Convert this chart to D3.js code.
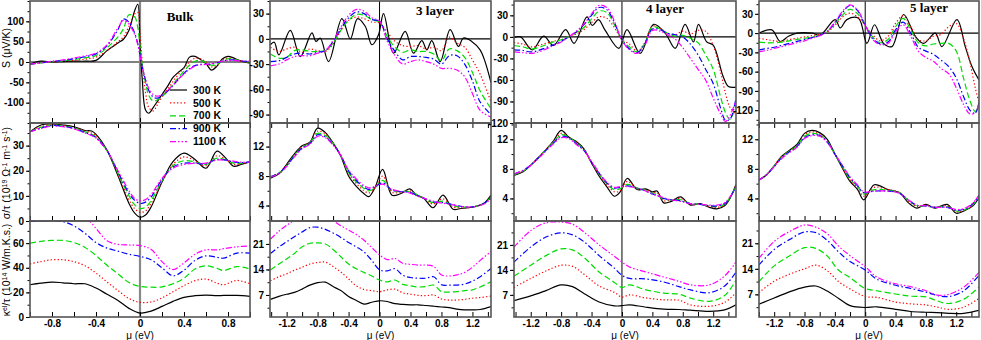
<!DOCTYPE html>
<html>
<head>
<meta charset="utf-8">
<script src="https://cdn.jsdelivr.net/npm/d3@7"></script>
<style>
  body { margin: 0; background: #fff; }
  svg { display: block; }
</style>
</head>
<body>
<div id="chart"></div>
<script>
// -------------------- Data --------------------

const temps = ["300 K", "500 K", "700 K", "900 K", "1100 K"];
const titles = ["Bulk", "3 layer", "4 layer", "5 layer"];

// ***** Bulk *****
const muSb = [-1,-0.9,-0.8,-0.7,-0.6,-0.5,-0.4,-0.3,-0.2,-0.15,-0.1,-0.05,-0.02,0,0.02,0.05,0.08,0.12,0.16,0.2,0.25,0.3,0.35,0.4,0.45,0.5,0.55,0.6,0.65,0.7,0.75,0.8,0.85,0.9,1.0];
const sBulk = [
  [-5,2,0,1,2, 2,4,28,47,56, 78,125,142,40,-40, -118,-126,-112,-96,-80, -60,-38,-25,-14,12, 14,6,-4,-20,-10, 8,14,10,4,-3],
  [-5,-2,0,2,4, 7,12,28,50,62, 88,118,122,70,0, -75,-112,-120,-104,-86, -68,-48,-30,-15,0, 9,8,0,-12,-8, 4,10,8,3,-2],
  [-5,-2,1,3,6, 10,16,35,62,82, 116,112,85,38,-5, -50,-82,-96,-93,-85, -72,-55,-38,-22,-8, 2,4,-2,-8,-6, 3,8,7,3,0],
  [-5,-2,1,4,8, 13,20,40,80,106, 98,72,45,18,-12, -45,-70,-86,-89,-82, -72,-58,-42,-28,-16, -9,-6,-6,-5,-2, 2,5,5,3,1],
  [-5,-2,2,5,10, 15,22,42,84,103, 93,68,42,15,-13, -42,-65,-80,-84,-80, -70,-57,-42,-30,-18, -10,-7,-6,-4,-1, 2,4,4,3,2]
];
const muSigB = [-1,-0.9,-0.8,-0.7,-0.6,-0.5,-0.44,-0.4,-0.3,-0.2,-0.1,-0.05,0,0.05,0.1,0.2,0.3,0.4,0.5,0.6,0.7,0.78,0.85,0.92,1.0];
const sigBulk = [
  [35.5,38.2,38.6,38.2,37.5, 36,35.8,34.5,28.2,18, 7,3.2,1.5,2.4,5.5, 15.5,23.6,27,24.5,21, 27.8,25,21.8,22.5,23.5],
  [35.5,37.5,38.3,38,37.3, 35.8,35,33.8,28,18.5, 8.5,5,3.5,4,7, 15.5,22.5,25.5,24,22, 26,24.5,22.5,22.8,23.5],
  [35.5,37.3,38.2,37.9,37, 35.5,34.5,33.5,28,19, 10,6.5,5,5.5,8, 16,22,24,23.5,22.5, 25,24.3,23,23,23.5],
  [35.5,37,38,37.7,36.8, 35.2,34.2,33.2,28,19.5, 11,8.3,7,7.5,9.5, 16.5,21.5,23,23,22.8, 24.5,24.2,23.5,23.2,23.5],
  [35.5,36.8,37.8,37.5,36.6, 35,34,33,28,20, 12,9,8,8.5,10.5, 17,21,22.5,23,23, 24.3,24.2,23.8,23.4,23.5]
];
const muKB = [-1,-0.9,-0.8,-0.7,-0.6,-0.5,-0.4,-0.3,-0.2,-0.1,0,0.1,0.2,0.3,0.4,0.5,0.6,0.7,0.76,0.88,1.0];
const kapBulk = [
  [26.2,27.5,28.4,27.8,27, 27,23.5,18.5,13.5,7, 3.2,4.8,8.6,12.7,16, 17.3,17.8,17.3,17.5,17.6, 16.8],
  [43.2,45,46.5,46.5,45, 41.6,35.7,28.5,21.5,15, 11.9,12.2,15.5,20.5,25.5, 29.5,30.8,27.5,26.2,29.7, 27],
  [60,61.5,62.2,62.2,60.5, 56.5,50,42,35,28, 24.9,24.2,24.5,27,31.5, 39,41.6,39.5,37.8,41, 39],
  [77.6,78.2,78.4,77.5,74, 68,60.5,56,53.5,51, 49.2,46.5,40,33.5,38, 46,49.7,48.5,47.8,51.9, 51.9],
  [88,89,90,89,87, 82,72,62,59,58.5, 58,55,45,38.5,44, 51,54.6,54.5,55.5,57, 57.8]
];

// ***** 3 layer *****
const muS3k = [-1.41,-1.36,-1.30,-1.153,-1.024,-0.873,-0.822,-0.766,-0.658,-0.486,-0.378,-0.284,-0.185,-0.099,-0.013,0.052,0.181,0.331,0.439,0.546,0.611,0.675,0.783,0.912,1.019,1.084,1.191,1.299,1.363,1.44];
const s3Black = [-7,-4,-19,10,-21, 7,-3,1,-27,24, 0,24,15,-7,5, 30,-17,9,-17,-2, -13,-2,-27,11,-9, 1,-3,-13,-27,-52];
const muS3 = [-1.41,-1.3,-1.2,-1.1,-1.0,-0.9,-0.8,-0.7,-0.6,-0.5,-0.4,-0.3,-0.2,-0.1,0,0.1,0.2,0.3,0.4,0.5,0.6,0.7,0.8,0.9,1.0,1.1,1.2,1.3,1.44];
const s3 = [
  [-10,-15,-12,-10,-16, -12,-14,-15,-6,10, 22,26,24,20,19, 8,-3,-8,-9,-8, -12,-10,-14,2,-5, -10,-25,-42,-75],
  [-18,-23,-22,-14,-13, -15,-15,-14,-5,10, 22,29,28,23,20, 3,-10,-16,-13,-15, -15,-18,-26,-12,-14, -22,-40,-62,-83],
  [-27,-26,-22,-18,-17, -18,-16,-14,-3,12, 25,32,30,23,21, 0,-15,-25,-21,-21, -22,-24,-30,-20,-20, -30,-50,-75,-90],
  [-32,-30,-25,-21,-20, -20,-17,-14,-2,14, 28,35,33,25,21, -3,-20,-30,-27,-25, -27,-30,-35,-35,-37, -45,-65,-85,-93]
];
const muSig3 = [-1.41,-1.3,-1.2,-1.1,-1.0,-0.9,-0.8,-0.7,-0.6,-0.5,-0.4,-0.3,-0.2,-0.14,-0.06,0.04,0.16,0.27,0.39,0.48,0.57,0.69,0.82,0.95,1.05,1.15,1.25,1.35,1.44];
const sig3 = [
  [7.7,8.3,9.6,11.0,12.1, 12.6,14.5,13.9,12.5,10.7, 8.0,6.6,5.6,5.2,6.4, 8.9,5.4,5.6,6.25,5.4, 5.0,3.7,5.4,3.5,3.6, 3.7,3.9,4.3,5.4],
  [7.9,8.4,9.5,10.9,12.0, 12.6,14.1,13.7,12.4,10.8, 8.3,7.0,6.0,5.7,6.4, 8.0,5.8,5.8,6.0,5.5, 5.0,4.2,4.9,3.8,3.7, 3.7,3.9,4.3,5.2],
  [7.9,8.4,9.4,10.8,11.9, 12.5,13.8,13.5,12.4,10.8, 8.5,7.2,6.3,6.0,6.4, 7.4,6.0,5.9,5.9,5.5, 5.0,4.4,4.6,4.0,3.8, 3.8,3.9,4.3,5.1],
  [7.9,8.4,9.4,10.7,11.8, 12.4,13.6,13.3,12.3,10.8, 8.7,7.4,6.5,6.2,6.5, 7.1,6.1,5.9,5.8,5.4, 5.0,4.5,4.4,4.1,3.9, 3.8,3.9,4.3,5.0],
  [7.9,8.3,9.3,10.6,11.7, 12.3,13.4,13.2,12.2,10.8, 8.8,7.6,6.7,6.4,6.6, 6.9,6.2,5.9,5.7,5.3, 5.0,4.6,4.3,4.1,3.9, 3.8,3.9,4.2,4.9]
];
const kap3 = [
  [5.8,6.6,7.2,7.7,8.6, 9.7,10.4,10.5,9.3,8.2, 6.6,5.5,4.5,5.0,5.4, 5.2,4.6,4.4,4.3,4.3, 4.1,3.9,3.7,3.5,3.1, 2.9,2.9,3.0,3.8],
  [10.9,12,12.8,13.8,14.6, 15.5,15.9,16.0,14.8,13.3, 11.4,9.5,8.5,8.2,7.9, 8.4,8.6,7.6,7.2,6.9, 6.8,7.0,5.9,5.6,5.6, 5.8,6.1,6.3,6.7],
  [13.85,15.5,16.9,18.4,20.2, 21.2,21.3,21.0,19.5,17.5, 15.5,14.2,13.2,12.2,11.1, 10.6,11.1,9.9,9.5,9.2, 9.3,9.7,7.9,7.8,7.9, 8.2,8.4,9.2,10.6],
  [18.4,20.2,21.6,23.0,24.3, 25.5,25.6,25.0,24.0,22.8, 21.4,20.2,18.8,16.5,13.9, 13.6,14.2,12.4,11.8,11.6, 11.6,12,9.8,9.7,9.7, 10,10.8,12,14.3],
  [22.3,24.5,26.1,27.5,28.5, 29.0,29.0,28.6,27.4,26.0, 24.8,23.6,22.0,20.0,18.0, 16.7,17.0,15.7,15.4,15.2, 15.2,14.8,12.5,12.2,12.5, 13.2,14.6,16.5,18.9]
];

// ***** 4 layer *****
const muS4k = [-1.42,-1.334,-1.18,-1.03,-0.90,-0.74,-0.63,-0.46,-0.39,-0.31,-0.22,-0.04,0.066,0.24,0.416,0.57,0.70,0.83,0.94,1.006,1.115,1.20,1.33,1.40,1.5];
const s4Black = [-1,0,-18,1,-12, 10,-9,28,16,24, 9,-16,10,-23,17.5, 5,-16,17.5,-7,17.5, -7,-11.5,-55,-69,-70];
const muS4 = [-1.42,-1.3,-1.2,-1.1,-1.0,-0.9,-0.8,-0.7,-0.6,-0.5,-0.4,-0.3,-0.2,-0.1,0,0.1,0.2,0.3,0.4,0.5,0.6,0.7,0.8,0.9,1.0,1.1,1.2,1.3,1.36,1.42,1.5];
const s4 = [
  [-8,-10,-14,-12,-9, -6,-4,0,4,10, 20,28,26,13,-4, -10,-20,-8,15,12, 5,3,8,4,9, 8,-12,-50,-78,-98, -108],
  [-12,-14,-17,-15,-11, -7,-4,0,6,13, 25,36,34,17,-4, -14,-21,-9,14,11, 5,1,2,-2,-8, -25,-45,-85,-105,-115, -95],
  [-18,-19,-21,-19,-15, -11,-6,0,7,17, 30,41,38,20,-4, -17,-22,-10,11,10, 5,3,0,-10,-25, -45,-65,-100,-116,-115, -85],
  [-21,-22,-23,-21,-17, -12,-7,0,8,18, 32,44,41,22,-5, -18,-23,-12,9,8, 3,-3,-15,-30,-45, -60,-85,-108,-118,-110, -88]
];
const muSig4 = [-1.42,-1.3,-1.2,-1.1,-1.0,-0.9,-0.8,-0.7,-0.6,-0.5,-0.4,-0.3,-0.2,-0.1,-0.03,0.07,0.2,0.31,0.4,0.46,0.55,0.65,0.77,0.9,1.03,1.15,1.25,1.35,1.42,1.5];
const sig4 = [
  [7.1,7.6,8.5,9.5,10.6, 11.8,13.2,12.3,11.7,10.7, 8.8,7.0,5.6,4.3,4.8, 6.7,5.2,5.3,4.9,5.0, 3.4,3.6,4.2,3.1,3.3, 2.8,2.6,3.0,4.0,5.9],
  [7.2,7.7,8.5,9.5,10.6, 11.7,12.8,12.3,11.6,10.6, 8.8,7.2,5.9,4.9,5.0, 6.3,5.3,5.2,4.8,4.8, 3.7,3.8,4.0,3.2,3.2, 2.9,2.8,3.1,4.1,5.8],
  [7.2,7.7,8.5,9.5,10.6, 11.6,12.6,12.3,11.5,10.6, 8.9,7.3,6.0,5.2,5.3, 5.9,5.4,5.1,4.7,4.5, 3.9,3.8,3.8,3.3,3.2, 3.0,2.9,3.2,4.1,5.7],
  [7.3,7.8,8.5,9.5,10.5, 11.5,12.4,12.2,11.4,10.5, 8.9,7.4,6.1,5.4,5.5, 5.7,5.4,5.0,4.6,4.4, 4.0,3.8,3.7,3.3,3.2, 3.0,3.0,3.3,4.1,5.6],
  [7.3,7.8,8.5,9.4,10.4, 11.4,12.2,12.1,11.3,10.5, 9.0,7.5,6.2,5.5,5.6, 5.6,5.4,5.0,4.6,4.4, 4.1,3.8,3.6,3.3,3.2, 3.1,3.1,3.4,4.2,5.6]
];
const muK4 = [-1.42,-1.2,-1.0,-0.8,-0.65,-0.5,-0.3,-0.1,0,0.1,0.3,0.55,0.75,0.9,1.15,1.35,1.5];
const kap4 = [
  [5.4,6.7,8.2,9.8,9.3, 7.4,5.0,3.9,4.0,4.2, 3.6,3.0,2.9,2.7,2.4, 2.8,4.2],
  [9.1,11.6,13.7,15.3,15.0, 12.8,9.5,7.7,6.4,7.0, 6.2,5.6,5.5,4.2,3.8, 4.9,7.6],
  [12.2,15.3,18.0,19.9,19.6, 17.5,13.4,10.5,9.1,9.8, 8.5,7.5,7.2,6.1,5.2, 6.8,11.1],
  [16.2,20.4,23.2,24.4,23.8, 21.9,18.0,14.5,12.5,11.6, 11.5,10.6,9.3,8.4,7.6, 9.5,13.4],
  [20.4,25.0,27.2,27.4,26.8, 24.6,21.0,17.8,16.2,14.8, 13.5,12.0,10.8,9.8,9.8, 12.3,16.2]
];

// ***** 5 layer *****
const muS5k = [-1.4,-1.231,-1.121,-1.011,-0.90,-0.70,-0.594,-0.396,-0.33,-0.242,-0.088,0.022,0.123,0.242,0.352,0.506,0.66,0.77,0.923,1.011,1.209,1.319,1.407,1.5];
const s5Black = [0,5,-13,-5,0, 0,-3,21,8,21, 23,-16,13,-16,-21, 29,-5,-16,0,-21, 21,-21,-52,-73];
const muS5 = [-1.4,-1.3,-1.2,-1.1,-1.0,-0.9,-0.8,-0.7,-0.6,-0.5,-0.4,-0.3,-0.2,-0.1,0,0.1,0.2,0.3,0.4,0.5,0.6,0.7,0.8,0.9,1.0,1.1,1.2,1.3,1.38,1.45,1.5];
const s5 = [
  [-8,-10,-12,-13,-10, -8,-6,-4,-2,2, 12,25,31,25,12, -3,-12,-5,15,27, 10,-10,-12,-5,-2, 10,15,-10,-45,-85, -108],
  [-14,-15,-15,-14,-12, -10,-8,-6,-3,3, 14,28,37,30,12, -6,-15,-10,10,23, 5,-15,-20,-17,-16, -16,-28,-72,-105,-122, -108],
  [-26,-24,-22,-19,-16, -13,-10,-7,-4,3, 16,32,43,35,12, -8,-17,-14,5,17, 0,-22,-28,-33,-42, -52,-70,-100,-120,-125, -108],
  [-29,-27,-24,-21,-18, -15,-12,-8,-4,3, 17,34,44,36,12, -10,-18,-16,2,13, -5,-28,-38,-44,-55, -63,-85,-112,-126,-124, -108]
];
const muSig5 = [-1.4,-1.3,-1.2,-1.1,-1.0,-0.9,-0.8,-0.7,-0.6,-0.5,-0.4,-0.3,-0.2,-0.1,-0.02,0.12,0.3,0.45,0.57,0.68,0.8,0.92,1.08,1.2,1.32,1.42,1.5];
const sig5 = [
  [6.5,7.2,8.4,9.7,10.5, 11.3,12.8,13.2,12.9,12.0, 10.0,8.1,6.3,5.2,3.8, 5.85,5.2,4.8,3.4,2.7, 3.2,2.7,3.2,2.0,2.4, 3.0,4.1],
  [6.5,7.2,8.4,9.7,10.4, 11.2,12.6,13.0,12.7,11.8, 10.0,8.2,6.5,5.4,4.3, 5.5,5.2,4.8,3.6,2.9, 3.1,2.8,3.0,2.2,2.5, 3.1,4.2],
  [6.5,7.2,8.4,9.6,10.4, 11.1,12.4,12.8,12.6,11.7, 10.0,8.3,6.6,5.6,4.6, 5.2,5.1,4.8,3.7,3.0, 3.0,2.8,2.9,2.3,2.5, 3.2,4.3],
  [6.5,7.2,8.3,9.5,10.3, 11.0,12.2,12.6,12.5,11.6, 10.0,8.4,6.8,5.7,4.8, 5.0,5.0,4.7,3.8,3.1, 3.0,2.8,2.8,2.4,2.6, 3.3,4.4],
  [6.5,7.2,8.3,9.4,10.2, 10.9,12.1,12.5,12.4,11.6, 10.0,8.5,6.9,5.8,4.9, 5.0,5.0,4.7,3.8,3.1, 3.0,2.8,2.8,2.5,2.7, 3.4,4.5]
];
const muK5 = [-1.4,-1.2,-1.0,-0.8,-0.65,-0.5,-0.35,-0.2,0,0.15,0.4,0.6,0.8,0.95,1.1,1.3,1.5];
const kap5 = [
  [4.3,6.0,7.7,9.0,9.3, 7.9,5.9,3.9,3.4,3.6, 2.9,2.3,2.1,2.0,1.8, 1.8,2.6],
  [7.5,10.6,12.5,14.0,15.0, 13.5,10.5,8.5,6.4,6.2, 4.9,4.4,4.1,3.5,2.9, 3.5,5.9],
  [10.5,14.8,17.5,19.8,19.6, 17.5,13.6,11.6,8.6,8.0, 7.1,6.5,6.3,5.2,4.5, 5.7,9.0],
  [15.1,19.3,22.0,24.1,23.9, 21.8,18.6,16.0,13.7,11.2, 9.5,8.6,7.6,6.7,6.4, 8.0,12.2],
  [16.9,21.5,24.2,26.0,25.4, 23.6,20.2,17.6,14.6,11.8, 9.9,9.1,8.0,6.8,7.0, 9.0,13.0]
];

// ***** Axis ticks *****
const xLabelsBulk = [-0.8, -0.4, 0, 0.4, 0.8];
const xLabelsLayer = [-1.2, -0.8, -0.4, 0, 0.4, 0.8, 1.2];
const yLabels = [
  [[-100, -50, 0, 50, 100], [0, 10, 20, 30], [0, 20, 40, 60]],
  [[-90, -60, -30, 0, 30], [4, 8, 12], [7, 14, 21]],
  [[-120, -90, -60, -30, 0, 30], [4, 8, 12], [7, 14, 21]],
  [[-120, -90, -60, -30, 0, 30], [4, 8, 12], [7, 14, 21]]
];


// -------------------- Layout & style --------------------

const WIDTH = 981;
const HEIGHT = 340;
const colX = [[30, 250], [270, 491], [514, 736], [759, 979]];
const rowY = [[1, 123], [123, 221], [221, 317]];
const xDomains = [[-1, 1], [-1.415, 1.44], [-1.42, 1.5], [-1.4, 1.5]];
const yDomains = [
  [[-150, 150], [0, 39], [0, 78]],
  [[-100, 45], [1.9, 15.2], [0.95, 27.3]],
  [[-120, 50], [0.95, 14.2], [0.8, 27.7]],
  [[-140, 50], [0.95, 14.2], [0.8, 27.1]]
];
const yMinorStep = [[25, 5, 10], [15, 2, 3.5], [15, 2, 3.5], [15, 2, 3.5]];
const colors = ["#000000", "#ff0000", "#00dd00", "#0000ff", "#ff00ff"];
const dashes = [null, "1.3,2.2", "6,3", "6,2.5,1.5,2.5", "6,2,1.5,2,1.5,2"];
const SANS = "'Liberation Sans', Arial, Helvetica, sans-serif";
const SERIF = "'Liberation Serif', 'Times New Roman', serif";


// -------------------- Functions --------------------

// pairs each value array with its mu grid
const grid = (mu, arrs) => arrs.map(v => d3.zip(mu, v));

// values k*step that fall inside [lo, hi]
const stepTicks = (lo, hi, step) =>
  d3.range(Math.ceil(lo / step - 1e-9), Math.floor(hi / step + 1e-9) + 1).map(k => +(k * step).toFixed(4));

const styleAxis = (g) => {
  g.select(".domain").remove();
  g.selectAll("line").attr("stroke", "#000").attr("stroke-width", 1);
  g.selectAll("text").attr("font-family", SANS).attr("font-size", 10)
    .attr("font-weight", "bold").attr("fill", "#000");
};

// series for each panel, [col][row]
const panelSeries = [
  [grid(muSb, sBulk), grid(muSigB, sigBulk), grid(muKB, kapBulk)],
  [[d3.zip(muS3k, s3Black), ...grid(muS3, s3)], grid(muSig3, sig3), grid(muS3, kap3)],
  [[d3.zip(muS4k, s4Black), ...grid(muS4, s4)], grid(muSig4, sig4), grid(muK4, kap4)],
  [[d3.zip(muS5k, s5Black), ...grid(muS5, s5)], grid(muSig5, sig5), grid(muK5, kap5)]
];

const svg = d3.select("#chart")
  .append("svg")
  .attr("width", WIDTH)
  .attr("height", HEIGHT)
  .attr("viewBox", [0, 0, WIDTH, HEIGHT]);

const defs = svg.append("defs");

colX.forEach((cx, c) => {
  const x = d3.scaleLinear().domain(xDomains[c]).range(cx);
  const xMinor = stepTicks(xDomains[c][0], xDomains[c][1], 0.2);
  const xLabels = c === 0 ? xLabelsBulk : xLabelsLayer;

  rowY.forEach((ry, r) => {
    const y = d3.scaleLinear().domain(yDomains[c][r]).range([ry[1], ry[0]]);
    const clipId = `clip-${c}-${r}`;
    defs.append("clipPath").attr("id", clipId)
      .append("rect").attr("x", cx[0]).attr("y", ry[0])
      .attr("width", cx[1] - cx[0]).attr("height", ry[1] - ry[0]);

    const panel = svg.append("g");

    // zero lines
    if (r === 0) {
      panel.append("line")
        .attr("x1", cx[0]).attr("x2", cx[1])
        .attr("y1", y(0)).attr("y2", y(0))
        .attr("stroke", "#000").attr("stroke-width", 1.2);
    }
    panel.append("line")
      .attr("x1", x(0)).attr("x2", x(0))
      .attr("y1", ry[0]).attr("y2", ry[1])
      .attr("stroke", c === 0 ? "#888" : "#000")
      .attr("stroke-width", c === 0 ? 2.2 : 1);

    // curves
    const line = d3.line()
      .x(d => x(d[0]))
      .y(d => y(d[1]))
      .curve(d3.curveCatmullRom.alpha(0.5));

    panel.append("g")
      .attr("clip-path", `url(#${clipId})`)
      .attr("fill", "none")
      .selectAll("path")
      .data(panelSeries[c][r])
      .join("path")
      .attr("d", line)
      .attr("stroke", (d, i) => colors[i])
      .attr("stroke-width", 1.2)
      .attr("stroke-dasharray", (d, i) => dashes[i]);

    // y axis: labelled ticks and minor ticks, pointing outwards
    panel.append("g")
      .attr("transform", `translate(${cx[0]},0)`)
      .call(d3.axisLeft(y).tickValues(yLabels[c][r]).tickSize(4).tickPadding(2).tickFormat(d => String(d)))
      .call(styleAxis);
    panel.append("g")
      .attr("transform", `translate(${cx[0]},0)`)
      .call(d3.axisLeft(y).tickValues(stepTicks(yDomains[c][r][0], yDomains[c][r][1], yMinorStep[c][r])).tickSize(2.5).tickFormat(""))
      .call(styleAxis);

    // x ticks pointing inwards
    const xt = r === 0 ? xLabels : xMinor;
    panel.append("g")
      .attr("transform", `translate(0,${ry[1]})`)
      .call(d3.axisBottom(x).tickValues(xt).tickSize(-5).tickPadding(3)
        .tickFormat(r === 2 ? (d => (xLabels.includes(d) ? String(d) : "")) : ""))
      .call(styleAxis);
    if (r === 1) {
      panel.append("g")
        .attr("transform", `translate(0,${ry[0]})`)
        .call(d3.axisTop(x).tickValues(xMinor).tickSize(-5).tickFormat(""))
        .call(styleAxis);
    }

    // frame
    panel.append("rect")
      .attr("x", cx[0]).attr("y", ry[0])
      .attr("width", cx[1] - cx[0]).attr("height", ry[1] - ry[0])
      .attr("fill", "none").attr("stroke", "#555").attr("stroke-width", 1.6);
  });

  // x title
  svg.append("text")
    .attr("x", (cx[0] + cx[1]) / 2).attr("y", 338.5)
    .attr("text-anchor", "middle")
    .attr("font-family", SANS).attr("font-size", 10)
    .text("μ (eV)");
});

// panel titles
const titlePos = [[180, 21], [435, 15], [665, 13], [929, 12]];
svg.selectAll(".ptitle")
  .data(titles)
  .join("text")
  .attr("x", (d, i) => titlePos[i][0])
  .attr("y", (d, i) => titlePos[i][1])
  .attr("text-anchor", "middle")
  .attr("font-family", SERIF).attr("font-size", 13).attr("font-weight", "bold")
  .text(d => d);

// y titles
const yTitle = (cy) => svg.append("text")
  .attr("transform", `translate(10,${cy}) rotate(-90)`)
  .attr("text-anchor", "middle")
  .attr("font-family", SANS).attr("font-size", 10.5);

const t1 = yTitle(48);
t1.append("tspan").text("S (μV/K)");

const sup = (t, s) => t.append("tspan").attr("baseline-shift", "super").attr("font-size", 7).text(s);
const t2 = yTitle(173);
t2.append("tspan").text("σ/τ (10");
sup(t2, "19");
t2.append("tspan").text(" Ω");
sup(t2, "-1");
t2.append("tspan").text(" m");
sup(t2, "-1");
t2.append("tspan").text(" s");
sup(t2, "-1");
t2.append("tspan").text(")");

const t3 = yTitle(270);
t3.append("tspan").text("κ");
sup(t3, "el");
t3.append("tspan").text("/τ (10");
sup(t3, "14");
t3.append("tspan").text(" W/m.K.s.)");

// legend
const legend = svg.append("g");
const legendRows = legend.selectAll("g")
  .data(temps)
  .join("g")
  .attr("transform", (d, i) => `translate(170,${90 + i * 12.9})`);
legendRows.append("line")
  .attr("x1", 0).attr("x2", 17)
  .attr("stroke", (d, i) => colors[i])
  .attr("stroke-width", 1.2)
  .attr("stroke-dasharray", (d, i) => dashes[i]);
legendRows.append("text")
  .attr("x", 23).attr("dy", "0.35em")
  .attr("font-family", SANS).attr("font-size", 10.5).attr("font-weight", "bold")
  .text(d => d);
</script>
</body>
</html>
